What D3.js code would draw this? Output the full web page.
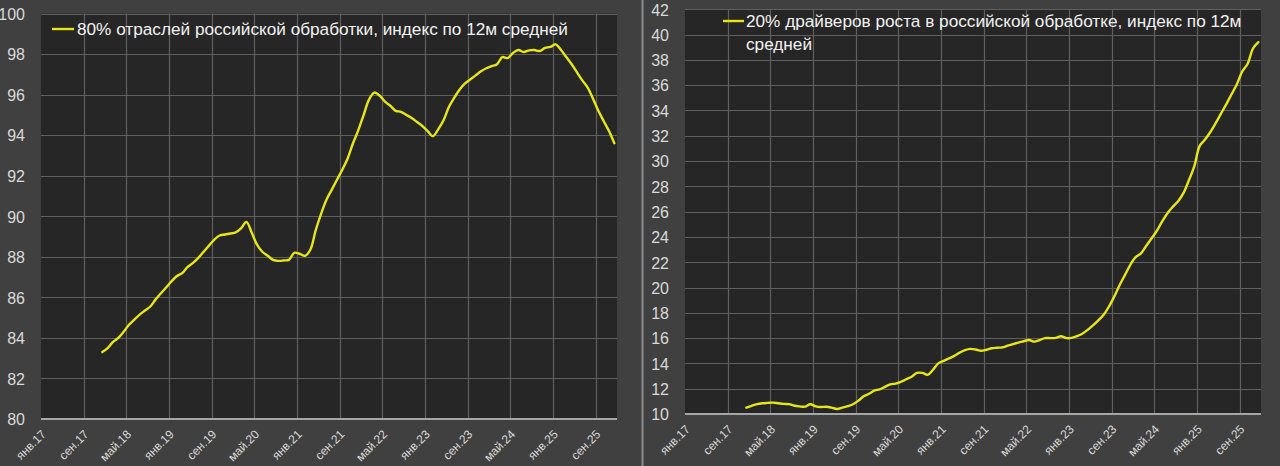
<!DOCTYPE html>
<html>
<head>
<meta charset="utf-8">
<script src="https://cdn.jsdelivr.net/npm/d3@7"></script>
<style>
	html, body { margin: 0; padding: 0; background: #404040; }
	svg { display: block; }
	text { font-family: "Liberation Sans", Arial, sans-serif; }
</style>
</head>
<body>
<div id="graph"></div>
<script>
// Month names and years for category axis:
let monthNames = ["янв", "фев", "мар", "апр", "май", "июн",
	"июл", "авг", "сен", "окт", "ноя", "дек"];
let years = ["17", "18", "19", "20", "21", "22", "23", "24", "25"];

// Labelled ticks (every 8 months):
let tickLabels = ["янв.17", "сен.17", "май.18", "янв.19", "сен.19", "май.20",
	"янв.21", "сен.21", "май.22", "янв.23", "сен.23", "май.24", "янв.25", "сен.25"];

// Both series start at дек.17
let seriesStart = "дек.17";

// 80% отраслей, index to 12m average
let values80 = [
	83.3, 83.5, 83.8, 84.0, 84.3, 84.65, 84.9, 85.15, 85.35, 85.55,
	85.9, 86.2, 86.5, 86.8, 87.05, 87.2, 87.5, 87.7, 87.95, 88.25,
	88.55, 88.85, 89.05, 89.1, 89.15, 89.2, 89.4, 89.72, 89.2, 88.6,
	88.25, 88.05, 87.85, 87.8, 87.82, 87.85, 88.2, 88.15, 88.05, 88.35,
	89.3, 90.1, 90.8, 91.3, 91.8, 92.3, 92.85, 93.6, 94.25, 95.0,
	95.75, 96.1, 95.95, 95.65, 95.45, 95.2, 95.15, 95.0, 94.85, 94.65,
	94.45, 94.2, 93.95, 94.3, 94.75, 95.4, 95.85, 96.25, 96.55, 96.75,
	96.95, 97.15, 97.3, 97.4, 97.5, 97.85, 97.8, 98.05, 98.2, 98.1,
	98.18, 98.2, 98.15, 98.3, 98.35, 98.48, 98.2, 97.85, 97.5, 97.1,
	96.7, 96.35, 95.8, 95.2, 94.7, 94.2, 93.6
	];

// 20% драйверов роста, index to 12m average
let values20 = [
	10.5, 10.65, 10.78, 10.85, 10.88, 10.9, 10.85, 10.8, 10.78, 10.65,
	10.6, 10.58, 10.77, 10.6, 10.55, 10.57, 10.5, 10.4, 10.5, 10.62,
	10.77, 11.05, 11.4, 11.6, 11.85, 11.95, 12.15, 12.35, 12.4, 12.55,
	12.75, 12.95, 13.25, 13.25, 13.1, 13.5, 14.0, 14.2, 14.4, 14.6,
	14.85, 15.05, 15.15, 15.1, 15.0, 15.08, 15.2, 15.24, 15.27, 15.4,
	15.53, 15.65, 15.75, 15.85, 15.72, 15.85, 16.0, 16.0, 16.02, 16.15,
	16.0, 16.02, 16.15, 16.35, 16.65, 17.0, 17.4, 17.85, 18.5, 19.3,
	20.2, 21.0, 21.8, 22.4, 22.7, 23.3, 23.9, 24.5, 25.25, 25.9,
	26.4, 26.85, 27.5, 28.5, 29.6, 31.2, 31.7, 32.3, 33.0, 33.75,
	34.5, 35.3, 36.1, 37.1, 37.7, 38.9, 39.4
	];

let yTicks80 = d3.range(80, 101, 2);
let yTicks20 = d3.range(10, 43, 2);

let legend80 = ["80% отраслей российской обработки, индекс по 12м средней"];
let legend20 = ["20% драйверов роста в российской обработке, индекс по 12м", "средней"];


// Build the month categories янв.17 .. дек.25:
let categories = [];
years.forEach( yr => {
	monthNames.forEach( m => categories.push(`${m}.${yr}`) );
	});


let width = 1280;
let height = 466;

let svg = d3.select("#graph")
	.append("svg")
		.attr("width", width)
		.attr("height", height)
	;

svg.append("rect")
	.attr("width", width)
	.attr("height", height)
	.attr("fill", "#404040")
	;

// Divider between the two pictures:
svg.append("line")
	.attr("x1", 642.5).attr("x2", 642.5)
	.attr("y1", 0).attr("y2", height)
	.attr("stroke", "#8c8c8c")
	.attr("stroke-width", 2)
	;


drawPanel({
	plot: { left: 41, right: 617, top: 13.5, bottom: 419 },
	domain: [80, 100],
	ticks: yTicks80,
	values: values80,
	legend: legend80,
	legendPos: { x1: 52, x2: 74, y: 29, tx: 77 }
	});

drawPanel({
	plot: { left: 685, right: 1261, top: 9.3, bottom: 414 },
	domain: [10, 42],
	ticks: yTicks20,
	values: values20,
	legend: legend20,
	legendPos: { x1: 723, x2: 744, y: 21, tx: 746 }
	});


function drawPanel(cfg) {
	let p = cfg.plot;
	let g = svg.append("g");

	let xScale = d3.scaleBand()
		.domain(categories)
		.range([p.left, p.right])
		;
	let yScale = d3.scaleLinear()
		.domain(cfg.domain)
		.range([p.bottom, p.top])
		;
	let half = xScale.bandwidth() / 2;

	// Plot area:
	g.append("rect")
		.attr("x", p.left)
		.attr("y", p.top)
		.attr("width", p.right - p.left)
		.attr("height", p.bottom - p.top)
		.attr("fill", "#262626")
		;

	// Horizontal gridlines:
	g.append("g")
		.selectAll("line")
		.data(cfg.ticks.slice(1))
		.enter()
			.append("line")
				.attr("x1", p.left)
				.attr("x2", p.right)
				.attr("y1", d => Math.round(yScale(d)) + 0.5)
				.attr("y2", d => Math.round(yScale(d)) + 0.5)
				.attr("stroke", "#5f5f5f")
				.attr("stroke-width", 1.2)
		;

	// Vertical gridlines on the boundaries between the labelled groups:
	g.append("g")
		.selectAll("line")
		.data(tickLabels.slice(1))
		.enter()
			.append("line")
				.attr("x1", d => Math.round(xScale(d)) + 0.5)
				.attr("x2", d => Math.round(xScale(d)) + 0.5)
				.attr("y1", p.top)
				.attr("y2", p.bottom)
				.attr("stroke", "#5f5f5f")
				.attr("stroke-width", 1.2)
		;

	// y axis labels:
	let yAxis = d3.axisLeft(yScale)
		.tickValues(cfg.ticks)
		.tickSize(0)
		.tickPadding(16)
		.tickFormat(d3.format("d"))
		;
	let yg = g.append("g")
		.attr("transform", `translate(${p.left}, 0)`)
		.call(yAxis)
		;
	yg.select(".domain").remove();
	yg.selectAll("text")
		.attr("fill", "#d9d9d9")
		.attr("dy", "0.36em")
		.style("font-size", "16px")
		;

	// x axis:
	let xAxis = d3.axisBottom(xScale)
		.tickValues(tickLabels)
		.tickSize(0)
		;
	let xg = g.append("g")
		.attr("transform", `translate(0, ${p.bottom})`)
		.call(xAxis)
		;
	xg.select(".domain")
		.attr("stroke", "#a6a6a6")
		.attr("stroke-width", 2)
		.attr("d", `M${p.left},0H${p.right}`)
		;
	xg.selectAll("text")
		.attr("y", 0)
		.attr("dy", 0)
		.attr("x", 0)
		.attr("transform", "translate(3, 16) rotate(-45)")
		.attr("text-anchor", "end")
		.attr("fill", "#d9d9d9")
		.style("font-size", "12px")
		;

	// The series:
	let points = cfg.values.map( (v, i) => ({
		cat: categories[categories.indexOf(seriesStart) + i],
		value: v
		}));

	let line = d3.line()
		.x(d => xScale(d.cat) + half)
		.y(d => yScale(d.value))
		.curve(d3.curveCatmullRom.alpha(0.5))
		;

	g.append("path")
		.datum(points)
		.attr("d", line)
		.attr("fill", "none")
		.attr("stroke", "#e6e619")
		.attr("stroke-width", 2.4)
		.attr("stroke-linejoin", "round")
		.attr("stroke-linecap", "round")
		;

	// Legend:
	let lp = cfg.legendPos;
	g.append("line")
		.attr("x1", lp.x1)
		.attr("x2", lp.x2)
		.attr("y1", lp.y)
		.attr("y2", lp.y)
		.attr("stroke", "#e6e619")
		.attr("stroke-width", 2.4)
		;
	g.append("g")
		.selectAll("text")
		.data(cfg.legend)
		.enter()
			.append("text")
				.attr("x", lp.tx)
				.attr("y", (d, i) => lp.y + i * 23)
				.attr("dy", "0.36em")
				.attr("fill", "#f2f2f2")
				.style("font-size", "17.2px")
				.text(d => d)
		;
	}
</script>
</body>
</html>
